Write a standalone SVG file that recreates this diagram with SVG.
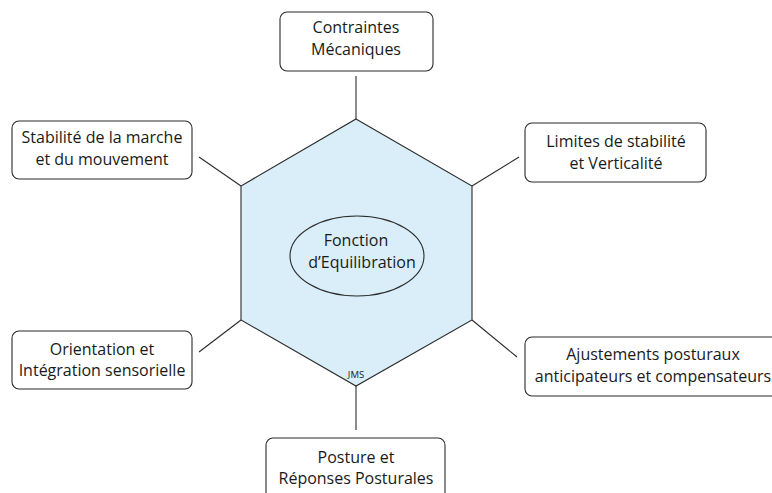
<svg xmlns="http://www.w3.org/2000/svg" width="772" height="493" viewBox="0 0 772 493">
<style>
.box{fill:#fff;stroke:#2b2b2b;stroke-width:1.1}
.t{font-family:"Open Sans","Liberation Sans",sans-serif;font-size:16px;fill:#1a1a1a;text-anchor:middle}
.con{stroke:#2b2b2b;stroke-width:1.1;fill:none}
</style>
<rect width="772" height="493" fill="#fff"/>
<g id="hexagon">
<polygon points="356,119 472,186 472,320 356,386 241,320 241,186" fill="#d9eef8" stroke="#2b2b2b" stroke-width="1.1"/>
<text x="356" y="378" style="font-family:'Open Sans','Liberation Sans',sans-serif;font-size:9.5px;fill:#1a1a1a;text-anchor:middle">JMS</text>
</g>
<g id="center">
<ellipse cx="357" cy="256" rx="67" ry="40" fill="none" stroke="#2b2b2b" stroke-width="1.1"/>
<text class="t" x="356" y="246">Fonction</text>
<text class="t" x="362" y="268">d’Equilibration</text>
</g>
<g id="connectors">
<line class="con" x1="356" y1="119" x2="356" y2="76"/>
<line class="con" x1="241" y1="186" x2="199" y2="157"/>
<line class="con" x1="472" y1="186" x2="519" y2="157"/>
<line class="con" x1="241" y1="320" x2="199" y2="352"/>
<line class="con" x1="472" y1="320" x2="517" y2="357"/>
<line class="con" x1="356" y1="386" x2="356" y2="430"/>
</g>
<g id="n-contraintes">
<rect class="box" x="280" y="12" width="153" height="59" rx="7"/>
<text class="t" x="356" y="33">Contraintes</text>
<text class="t" x="356" y="55">Mécaniques</text>
</g>
<g id="n-stabilite">
<rect class="box" x="12" y="121" width="180" height="58" rx="7"/>
<text class="t" x="102" y="143">Stabilité de la marche</text>
<text class="t" x="102" y="165">et du mouvement</text>
</g>
<g id="n-limites">
<rect class="box" x="525" y="123" width="181" height="59" rx="7"/>
<text class="t" x="616" y="147">Limites de stabilité</text>
<text class="t" x="616" y="169">et Verticalité</text>
</g>
<g id="n-orientation">
<rect class="box" x="12" y="331" width="180" height="58" rx="7"/>
<text class="t" x="102" y="355">Orientation et</text>
<text class="t" x="102" y="376">Intégration sensorielle</text>
</g>
<g id="n-ajustements">
<rect class="box" x="525" y="337" width="260" height="59" rx="7"/>
<text class="t" x="653" y="360">Ajustements posturaux</text>
<text class="t" x="653" y="382">anticipateurs et compensateurs</text>
</g>
<g id="n-posture">
<rect class="box" x="266" y="438" width="179" height="70" rx="7"/>
<text class="t" x="356" y="463">Posture et</text>
<text class="t" x="356" y="484">Réponses Posturales</text>
</g>
</svg>
